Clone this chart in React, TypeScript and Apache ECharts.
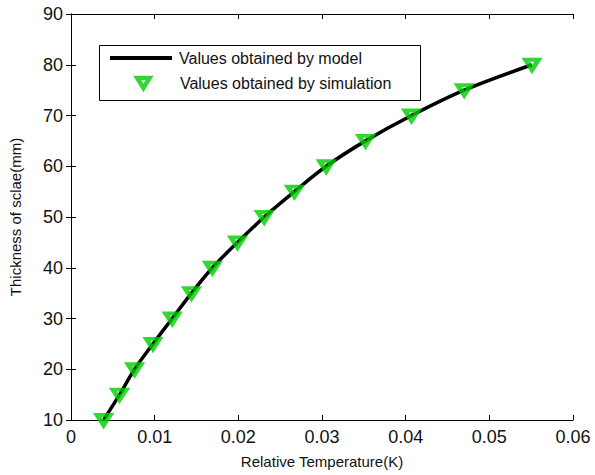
import React, { useEffect, useRef } from "react";
import * as echarts from "echarts";

const thickness = [10, 15, 20, 25, 30, 35, 40, 45, 50, 55, 60, 65, 70, 75, 80];
const relTemp = [0.0039, 0.0058, 0.0076, 0.0098, 0.0121, 0.0144, 0.0169, 0.0199, 0.0231, 0.0267, 0.0305, 0.0352, 0.0407, 0.0470, 0.0551];
const modelName = "Values obtained by model";
const simName = "Values obtained by simulation";

const FONT = "Liberation Sans, Arial, sans-serif";
const TRI = "path://M0,0L16,0L8,13Z";

export default function App() {
  const ref = useRef<HTMLDivElement>(null);
  useEffect(() => {
    const chart = echarts.init(ref.current!, null, { renderer: "svg" });
    const pts = relTemp.map((x, i) => [x, thickness[i]]);
    const axisCommon = {
      axisLine: { show: true, lineStyle: { color: "#000", width: 1 } },
      axisTick: { show: true, inside: true, length: 5, lineStyle: { color: "#000" } },
      splitLine: { show: false },
    };
    chart.setOption({
      animation: false,
      backgroundColor: "#fff",
      grid: { left: 69, right: 22, top: 14, bottom: 55 },
      xAxis: [
        {
          type: "value", min: 0, max: 0.06, interval: 0.01, position: "bottom",
          name: "Relative Temperature(K)", nameLocation: "middle", nameGap: 34,
          nameTextStyle: { fontFamily: FONT, fontSize: 15, color: "#111" },
          axisLabel: { fontFamily: FONT, fontSize: 18, color: "#111", margin: 8 },
          ...axisCommon,
        },
        {
          type: "value", min: 0, max: 0.06, interval: 0.01, position: "top",
          axisLabel: { show: false }, ...axisCommon,
        },
      ],
      yAxis: [
        {
          type: "value", min: 10, max: 90, interval: 10, position: "left",
          name: "Thickness of sclae(mm)", nameLocation: "middle", nameGap: 48,
          nameTextStyle: { fontFamily: FONT, fontSize: 15, color: "#111" },
          axisLabel: { fontFamily: FONT, fontSize: 18, color: "#111", margin: 8 },
          ...axisCommon,
        },
        {
          type: "value", min: 10, max: 90, interval: 10, position: "right",
          axisLabel: { show: false }, ...axisCommon,
        },
      ],
      legend: [
        {
          data: [{ name: modelName, icon: "rect", itemStyle: { color: "#000" } }],
          left: 110, top: 50, itemWidth: 62, itemHeight: 4, padding: 0,
          textStyle: { fontFamily: FONT, fontSize: 16, color: "#111", padding: [0, 0, 0, 2] },
          selectedMode: false,
        },
        {
          data: [{
            name: simName, icon: TRI,
            itemStyle: { color: "rgba(0,0,0,0)", borderColor: "#00cc00", borderWidth: 4.5 },
          }],
          left: 135, top: 75, itemWidth: 13, itemHeight: 10, padding: 0,
          textStyle: { fontFamily: FONT, fontSize: 16, color: "#111", padding: [0, 0, 0, 25] },
          selectedMode: false,
        },
      ],
      graphic: [
        {
          type: "rect", left: 97, top: 43, z: 100,
          shape: { width: 321, height: 55 },
          style: { fill: "none", stroke: "#000", lineWidth: 1 },
          silent: true,
        },
      ],
      series: [
        {
          name: modelName, type: "line", data: pts, smooth: 0.35, symbol: "none",
          lineStyle: { color: "#000", width: 3.5 }, itemStyle: { color: "#000" }, z: 2,
        },
        {
          name: simName, type: "scatter", data: pts,
          symbol: TRI, symbolSize: [13, 10],
          itemStyle: { color: "rgba(0,0,0,0)", borderColor: "#00cc00", borderWidth: 4.5 },
          z: 3,
        },
      ],
    });
    return () => chart.dispose();
  }, []);
  return <div ref={ref} style={{ position: "absolute", left: 0, top: 0, width: 595, height: 475 }} />;
}
